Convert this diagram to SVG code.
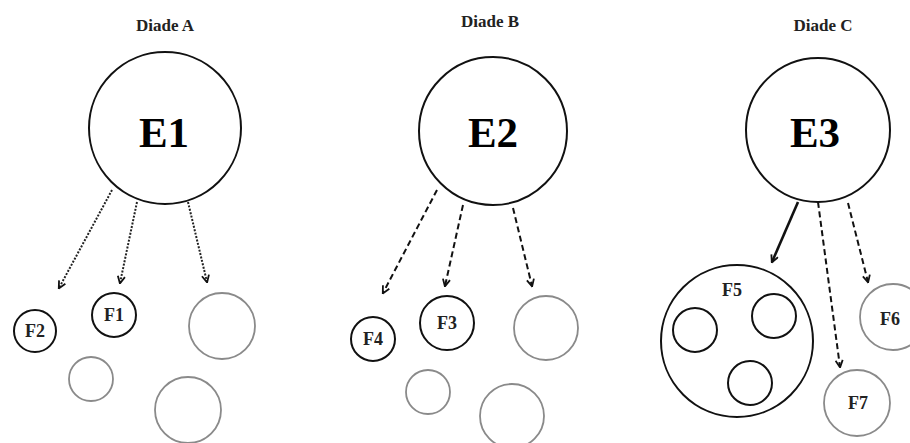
<svg xmlns="http://www.w3.org/2000/svg" width="910" height="443" viewBox="0 0 910 443">
<defs>
<style>
.bg{fill:#fff}
.title{font-family:"Liberation Serif","Times New Roman",serif;font-weight:bold;font-size:17px;fill:#222;text-anchor:middle}
.big{font-family:"Liberation Serif","Times New Roman",serif;font-weight:bold;font-size:43px;fill:#000;text-anchor:middle}
.lbl{font-family:"Liberation Serif","Times New Roman",serif;font-weight:bold;font-size:18px;fill:#222;text-anchor:middle}
.blk{fill:none;stroke:#111;stroke-width:2}
.gry{fill:none;stroke:#8a8a8a;stroke-width:1.8}
.dot{fill:none;stroke:#222;stroke-width:2;stroke-dasharray:2 1.5}
.dash{fill:none;stroke:#111;stroke-width:2;stroke-dasharray:6 3.5}
.sol{fill:none;stroke:#111;stroke-width:2.6}
</style>
<marker id="ah" viewBox="0 0 10 10" refX="8.5" refY="5" markerWidth="9" markerHeight="9" markerUnits="userSpaceOnUse" orient="auto">
<path d="M1,1 L9,5 L1,9" fill="none" stroke="#111" stroke-width="2"/>
</marker>
</defs>
<rect class="bg" width="910" height="443"/>

<text class="title" x="165" y="31">Diade A</text>
<text class="title" x="490" y="27">Diade B</text>
<text class="title" x="823" y="31">Diade C</text>

<g id="E1"><circle class="blk" cx="165" cy="128" r="76"/><text class="big" x="164" y="147">E1</text></g>
<g id="E2"><circle class="blk" cx="493" cy="131" r="74"/><text class="big" x="493" y="147">E2</text></g>
<g id="E3"><circle class="blk" cx="818" cy="130" r="72"/><text class="big" x="815" y="147">E3</text></g>

<g id="F2"><circle class="blk" cx="35" cy="331" r="21"/><text class="lbl" x="35" y="337">F2</text></g>
<g id="F1"><circle class="blk" cx="114" cy="315" r="22"/><text class="lbl" x="114" y="321">F1</text></g>
<g id="A-g1"><circle class="gry" cx="222" cy="326" r="33"/></g>
<g id="A-g2"><circle class="gry" cx="91" cy="379" r="22"/></g>
<g id="A-g3"><circle class="gry" cx="188" cy="410" r="33"/></g>

<g id="F4"><circle class="blk" cx="373" cy="339" r="22"/><text class="lbl" x="373" y="345">F4</text></g>
<g id="F3"><circle class="blk" cx="447" cy="323" r="27"/><text class="lbl" x="447" y="329">F3</text></g>
<g id="B-g1"><circle class="gry" cx="546" cy="328" r="32"/></g>
<g id="B-g2"><circle class="gry" cx="428" cy="392" r="22"/></g>
<g id="B-g3"><circle class="gry" cx="512" cy="416" r="32"/></g>

<g id="F5"><circle class="blk" cx="737" cy="341" r="76"/><text class="lbl" x="732" y="296">F5</text>
<circle class="blk" cx="695" cy="330" r="22"/>
<circle class="blk" cx="774" cy="316" r="22"/>
<circle class="blk" cx="750" cy="383" r="22"/></g>
<g id="F6"><circle class="gry" cx="893" cy="317" r="33"/><text class="lbl" x="890" y="325">F6</text></g>
<g id="F7"><circle class="gry" cx="857" cy="403" r="33"/><text class="lbl" x="858" y="409">F7</text></g>

<g id="connectors">
<line class="dot" x1="112" y1="190" x2="59" y2="288" marker-end="url(#ah)"/>
<line class="dot" x1="137" y1="202" x2="120" y2="283" marker-end="url(#ah)"/>
<line class="dot" x1="188" y1="202" x2="207" y2="282" marker-end="url(#ah)"/>
<line class="dash" x1="437" y1="190" x2="383" y2="293" marker-end="url(#ah)"/>
<line class="dash" x1="463" y1="205" x2="445" y2="286" marker-end="url(#ah)"/>
<line class="dash" x1="513" y1="208" x2="532" y2="286" marker-end="url(#ah)"/>
<line class="sol" x1="798" y1="202" x2="772" y2="262" marker-end="url(#ah)"/>
<line class="dash" x1="818" y1="202" x2="840" y2="367" marker-end="url(#ah)"/>
<line class="dash" x1="848" y1="203" x2="868" y2="282" marker-end="url(#ah)"/>
</g>
</svg>
